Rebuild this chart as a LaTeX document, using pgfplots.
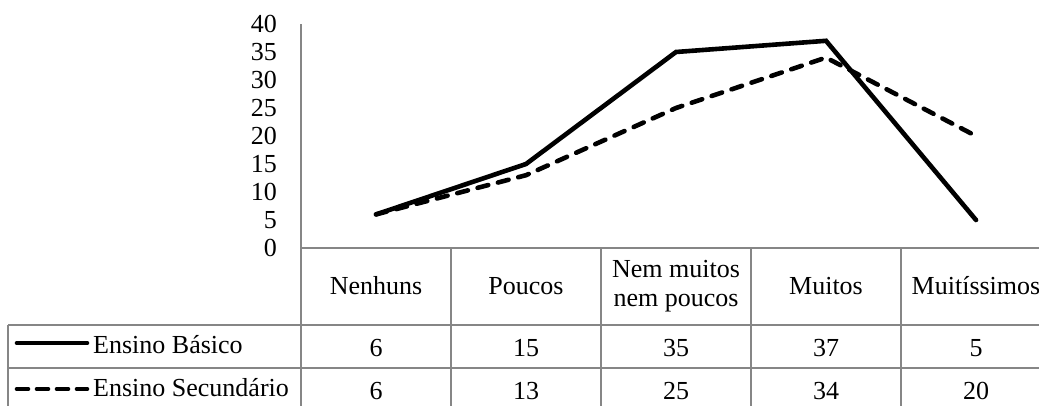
\documentclass[border=0pt]{standalone}
\usepackage{pgfplots}
\pgfplotsset{compat=1.18}
\usepackage{pgfplotstable}
\usepackage{fontspec}
\setmainfont{Liberation Serif}
\definecolor{grade}{RGB}{134,134,134}

% cat: position of the category, one column per school level
\pgfplotstableread{
cat basico secundario
0   6      6
1   15     13
2   35     25
3   37     34
4   5      20
}\dados

\newcommand{\fonte}{\fontsize{26}{28.5}\selectfont}

\begin{document}
\begin{tikzpicture}[font=\fonte]
\useasboundingbox (0pt,0pt) rectangle (1039pt,405pt);
\begin{axis}[
  at={(301pt,157pt)}, anchor=south west, scale only axis,
  width=738pt, height=224pt,
  xmin=-0.5, xmax=4.42, ymin=0, ymax=40,
  clip=false,
  axis lines=left,
  axis line style={draw=grade, line width=1.4pt, -},
  ytick={0,5,...,40}, xtick={0,...,4},
  xticklabels={Nenhuns,Poucos,{Nem muitos\\nem poucos},Muitos,Muitíssimos},
  major tick length=0pt,
  tick label style={font=\fonte},
  yticklabel style={anchor=east, inner sep=0pt, xshift=-24pt},
  xticklabel style={anchor=center, align=center, yshift=-38pt},
  /pgf/number format/assume math mode=true,
]
\addplot[black, line width=4.6pt, line cap=round, line join=miter]
  table[x=cat, y=basico]{\dados};
\addplot[black, line width=4.6pt, line cap=round, line join=round,
  dash pattern=on 11pt off 10pt]
  table[x=cat, y=secundario]{\dados};
% values of the data table under the chart
\addplot[draw=none, mark=none, nodes near coords, point meta=explicit,
  nodes near coords style={anchor=center, black, font=\fonte}]
  table[x=cat, y expr=-17.86, meta=basico]{\dados};
\addplot[draw=none, mark=none, nodes near coords, point meta=explicit,
  nodes near coords style={anchor=center, black, font=\fonte}]
  table[x=cat, y expr=-25.54, meta=secundario]{\dados};
\end{axis}

\begin{scope}[x=1pt, y=1pt]
% grid of the data table
\begin{scope}[draw=grade, line width=1.4pt]
  \draw (301,157) -- (301,-5);
  \foreach \x in {451,601,751,901} \draw (\x,157) -- (\x,-5);
  \draw (8,80) -- (1045,80);
  \draw (8,37) -- (1045,37);
  \draw (8,80) -- (8,-5);
\end{scope}

% legend keys
\draw[black, line width=4.6pt, line cap=round] (17,62) -- (87,62);
\draw[black, line width=4.6pt, line cap=round, dash pattern=on 11pt off 9pt] (17,16) -- (87,16);
\node[anchor=base west, inner sep=0pt] at (93,52) {Ensino Básico};
\node[anchor=base west, inner sep=0pt] at (93,9) {Ensino Secundário};
\end{scope}
\end{tikzpicture}
\end{document}
